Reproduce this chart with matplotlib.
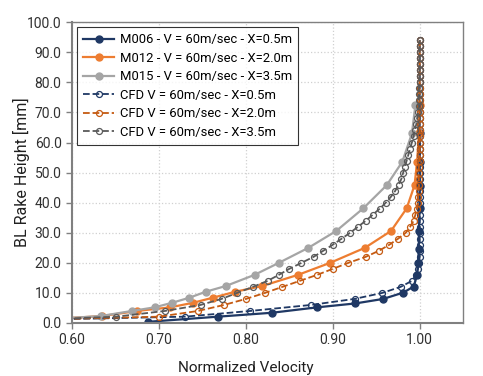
import matplotlib
matplotlib.use("Agg")
import matplotlib.pyplot as plt
from matplotlib.ticker import FormatStrFormatter, MultipleLocator

plt.rcParams['font.family'] = ['Roboto', 'DejaVu Sans']

# measured rake data
m006_x = [0.688, 0.768, 0.830, 0.882, 0.926, 0.958, 0.981, 0.993, 0.997, 0.998,
          0.999, 0.999, 1.000, 1.000, 1.000, 1.000]
m006_y = [0.4, 2.1, 3.4, 5.2, 6.5, 8.0, 10.1, 12.1, 16.0, 20.0,
          24.5, 30.7, 38.3, 45.6, 53.6, 63.0]

m012_x = [0.570, 0.635, 0.675, 0.713, 0.739, 0.762, 0.788, 0.819, 0.860, 0.897,
          0.937, 0.967, 0.985, 0.994, 0.997, 0.999, 1.000]
m012_y = [1.2, 2.3, 4.0, 5.2, 6.7, 8.4, 10.4, 12.3, 16.0, 20.0,
          25.0, 30.6, 38.1, 45.8, 53.6, 63.0, 72.4]

m015_x = [0.570, 0.633, 0.669, 0.695, 0.715, 0.735, 0.754, 0.777, 0.810, 0.838,
          0.872, 0.904, 0.935, 0.962, 0.980, 0.991, 0.995]
m015_y = [1.2, 2.3, 4.0, 5.2, 6.7, 8.4, 10.4, 12.3, 16.0, 20.0,
          25.0, 30.6, 38.1, 45.8, 53.6, 63.0, 72.4]

# CFD profiles (shared heights)
cfd_y = [1.2, 2.1, 4.0, 6.0, 8.0, 10.0, 12.0, 14.0, 16.0, 18.0,
         20.0, 22.0, 24.0, 26.0, 28.0, 30.0, 32.0, 34.0, 36.0, 38.0,
         40.0, 42.0, 44.0, 46.0, 48.0, 50.0, 52.0, 54.0, 56.0, 58.0,
         60.0, 62.0, 64.0, 66.0, 68.0, 70.0, 72.0, 74.0, 76.0, 78.0,
         80.0, 82.0, 84.0, 86.0, 88.0, 90.0, 92.0, 94.0]

cfd05_x = [0.580, 0.730, 0.805, 0.875, 0.925, 0.957, 0.978, 0.991, 0.996, 0.998,
           0.999, 1.000, 1.000, 1.000, 1.000, 1.000, 1.000, 1.000, 1.000, 1.000,
           1.000, 1.000, 1.000, 1.000, 1.000, 1.000, 1.000, 1.000, 1.000, 1.000,
           1.000, 1.000, 1.000, 1.000, 1.000, 1.000, 1.000, 1.000, 1.000, 1.000,
           1.000, 1.000, 1.000, 1.000, 1.000, 1.000, 1.000, 1.000]

cfd20_x = [0.570, 0.700, 0.745, 0.775, 0.800, 0.822, 0.842, 0.862, 0.882, 0.900,
           0.918, 0.938, 0.953, 0.965, 0.975, 0.984, 0.989, 0.993, 0.995, 0.997,
           0.998, 0.998, 0.999, 0.999, 0.999, 0.999, 0.999, 1.000, 1.000, 1.000,
           1.000, 1.000, 1.000, 1.000, 1.000, 1.000, 1.000, 1.000, 1.000, 1.000,
           1.000, 1.000, 1.000, 1.000, 1.000, 1.000, 1.000, 1.000]

cfd35_x = [0.570, 0.651, 0.707, 0.748, 0.772, 0.790, 0.808, 0.825, 0.838, 0.850,
           0.864, 0.878, 0.889, 0.900, 0.910, 0.920, 0.929, 0.938, 0.946, 0.954,
           0.961, 0.967, 0.972, 0.976, 0.979, 0.981, 0.983, 0.985, 0.987, 0.989,
           0.991, 0.993, 0.994, 0.996, 0.997, 0.998, 0.999, 0.999, 0.999, 0.999,
           1.000, 1.000, 1.000, 1.000, 1.000, 1.000, 1.000, 1.000]

labels = ["M006 - V = 60m/sec - X=0.5m",
          "M012 - V = 60m/sec - X=2.0m",
          "M015 - V = 60m/sec - X=3.5m",
          "CFD V = 60m/sec - X=0.5m",
          "CFD V = 60m/sec - X=2.0m",
          "CFD V = 60m/sec - X=3.5m"]

navy = "#1F3864"
orange = "#ED7D31"
gray = "#A5A5A5"
dk_orange = "#C55A11"
dk_gray = "#595959"

fig = plt.figure(figsize=(4.83, 3.76), dpi=100)
ax = fig.add_axes([0.149, 0.141, 0.810, 0.800])

ax.plot(m006_x, m006_y, '-o', color=navy, lw=1.6, ms=5, label=labels[0])
ax.plot(m012_x, m012_y, '-o', color=orange, lw=1.6, ms=5, label=labels[1])
ax.plot(m015_x, m015_y, '-o', color=gray, lw=1.6, ms=5, label=labels[2])
ax.plot(cfd05_x, cfd_y, '--o', color=navy, lw=1.3, ms=4.3, mfc='none', mew=0.9, label=labels[3])
ax.plot(cfd20_x, cfd_y, '--o', color=dk_orange, lw=1.3, ms=4.3, mfc='none', mew=0.9, label=labels[4])
ax.plot(cfd35_x, cfd_y, '--o', color=dk_gray, lw=1.3, ms=4.3, mfc='none', mew=0.9, label=labels[5])

ax.set_xlim(0.6, 1.05)
ax.set_ylim(0, 100)
ax.xaxis.set_major_locator(MultipleLocator(0.1))
ax.yaxis.set_major_locator(MultipleLocator(10))
ax.xaxis.set_major_formatter(FormatStrFormatter('%.2f'))
ax.yaxis.set_major_formatter(FormatStrFormatter('%.1f'))
ax.grid(True, color='#D0D0D0', linestyle=':', linewidth=0.9)
ax.set_axisbelow(True)

for s in ax.spines.values():
    s.set_color('#808080')
    s.set_linewidth(1.0)
ax.spines['left'].set_linewidth(1.5)
ax.spines['bottom'].set_linewidth(1.5)
ax.tick_params(axis='both', labelsize=10, length=4, width=1, colors='#303030')
ax.tick_params(axis='both', color='#808080')

ax.set_xlabel("Normalized Velocity", fontsize=11, color='#202020')
ax.set_ylabel("BL Rake Height [mm]", fontsize=11.5, color='#202020')
ax.xaxis.set_label_coords(0.445, -0.126)
ax.yaxis.set_label_coords(-0.107, 0.5)

leg = ax.legend(loc='upper left', fontsize=9.4, frameon=True, fancybox=False,
                edgecolor='black', handlelength=2.4, labelspacing=0.42,
                borderaxespad=0.4, handletextpad=0.4, borderpad=0.45)
leg.get_frame().set_linewidth(0.8)
for t in leg.get_texts():
    t.set_color('black')

fig.savefig("out.png", dpi=100)
